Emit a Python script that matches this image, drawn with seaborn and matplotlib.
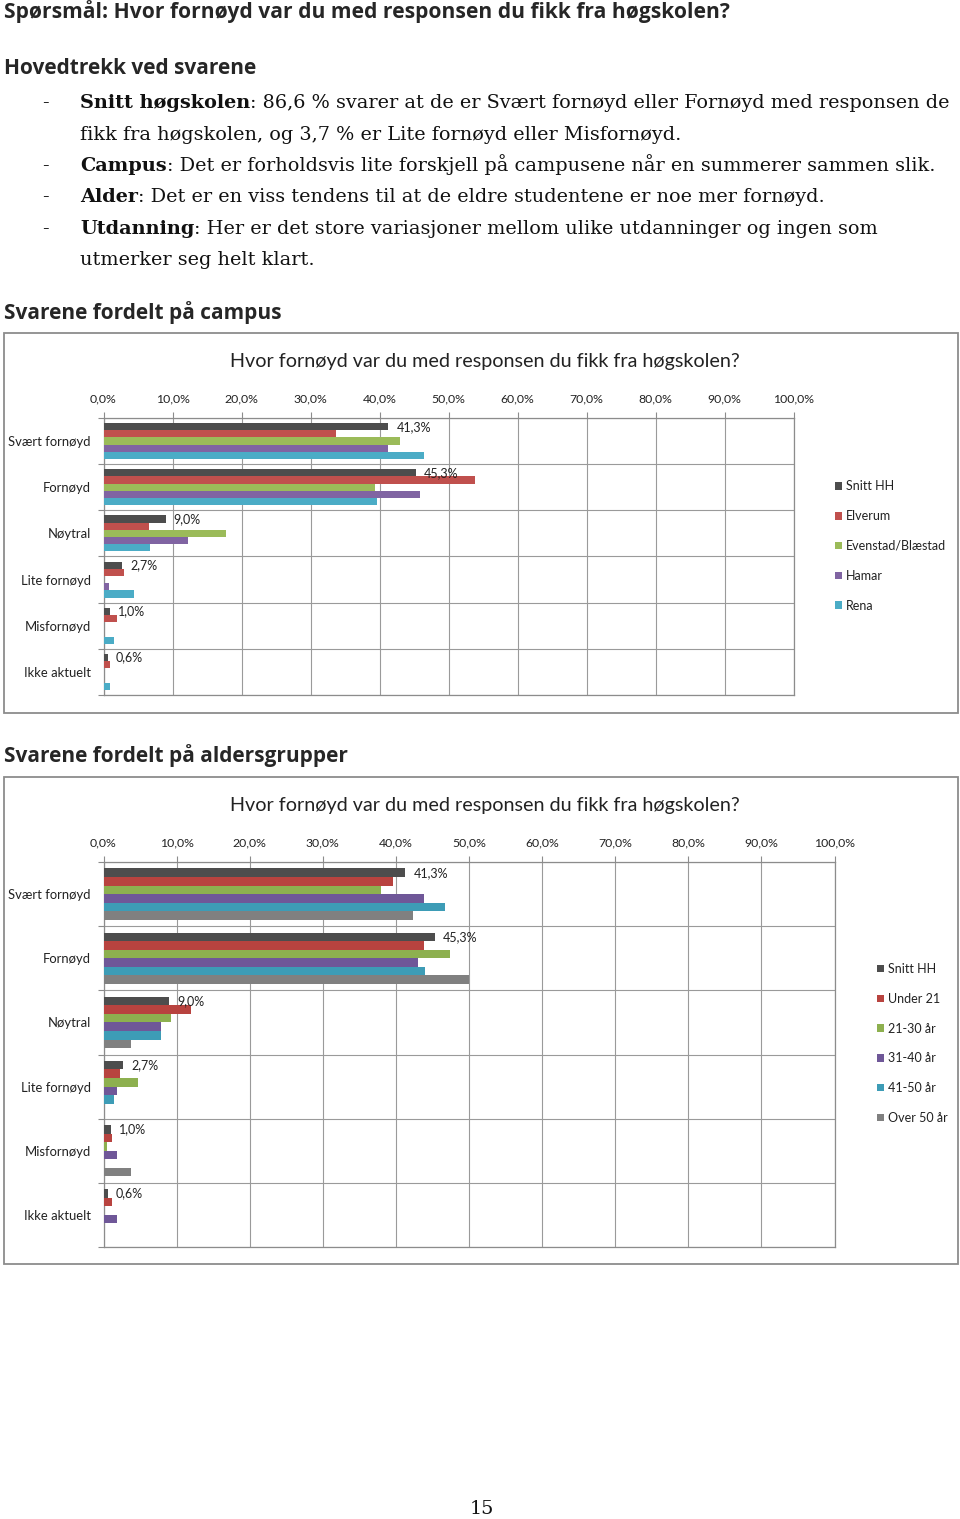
import numpy as np
import pandas as pd
import matplotlib
matplotlib.use("Agg")
import matplotlib.pyplot as plt
import seaborn as sns
from matplotlib.patches import Patch, Rectangle

# ---------------- data ----------------
categories = ["Svært fornøyd", "Fornøyd", "Nøytral", "Lite fornøyd", "Misfornøyd", "Ikke aktuelt"]
xticks = [0, 10, 20, 30, 40, 50, 60, 70, 80, 90, 100]

campus_series = ["Snitt HH", "Elverum", "Evenstad/Blæstad", "Hamar", "Rena"]
snitt_hh = [41.3, 45.3, 9.0, 2.7, 1.0, 0.6]
elverum = [33.7, 53.8, 6.6, 3.0, 1.9, 1.0]
evenstad = [43.0, 39.3, 17.8, 0.0, 0.0, 0.0]
hamar = [41.2, 45.8, 12.2, 0.8, 0.0, 0.0]
rena = [46.5, 39.7, 6.8, 4.4, 1.5, 1.0]

age_series = ["Snitt HH", "Under 21", "21-30 år", "31-40 år", "41-50 år", "Over 50 år"]
under_21 = [39.6, 43.9, 12.0, 2.3, 1.1, 1.1]
age_21_30 = [38.0, 47.4, 9.3, 4.7, 0.5, 0.0]
age_31_40 = [43.9, 43.0, 7.8, 1.8, 1.8, 1.8]
age_41_50 = [46.7, 44.0, 7.9, 1.4, 0.0, 0.0]
over_50 = [42.4, 50.0, 3.8, 0.0, 3.8, 0.0]

chart_title = "Hvor fornøyd var du med responsen du fikk fra høgskolen?"

campus_colors = ["#4d4d4d", "#c0504d", "#9bbb59", "#8064a2", "#4bacc6"]
age_colors = ["#4d4d4d", "#b8433f", "#8db04f", "#6f5798", "#3d9cb6", "#808080"]

# ---------------- figure ----------------
W, H = 960, 1519
sns.set_style("white")
plt.rcParams["font.family"] = ["Lato", "DejaVu Sans"]
fig = plt.figure(figsize=(W / 100, H / 100), dpi=100)
fig.patch.set_facecolor("white")
r = fig.canvas.get_renderer()

SANS = ["Lato", "DejaVu Sans"]
HEAD = ["Open Sans", "DejaVu Sans"]
SERIF = ["DejaVu Serif"]


def fx(px):
    return px / W


def fy(py):
    return 1 - py / H


def fit(t, width):
    bb = t.get_window_extent(r)
    t.set_fontsize(t.get_fontsize() * width / bb.width)
    return t


# headings
fit(fig.text(fx(4), fy(12), "Spørsmål: Hvor fornøyd var du med responsen du fikk fra høgskolen?",
             family=HEAD, fontweight="bold", fontsize=14, va="center", ha="left"), 726)
fit(fig.text(fx(4), fy(68), "Hovedtrekk ved svarene", family=HEAD, fontweight="bold",
             fontsize=14, va="center", ha="left"), 254)
fit(fig.text(fx(4), fy(313), "Svarene fordelt på campus", family=HEAD, fontweight="bold",
             fontsize=14, va="center", ha="left"), 280)
fit(fig.text(fx(4), fy(756), "Svarene fordelt på aldersgrupper", family=HEAD, fontweight="bold",
             fontsize=14, va="center", ha="left"), 346)

# body bullets
body_lines = [
    (108, True, [("Snitt høgskolen", True),
                 (": 86,6 % svarer at de er Svært fornøyd eller Fornøyd med responsen de", False)]),
    (140, False, [("fikk fra høgskolen, og 3,7 % er Lite fornøyd eller Misfornøyd.", False)]),
    (171, True, [("Campus", True),
                 (": Det er forholdsvis lite forskjell på campusene når en summerer sammen slik.", False)]),
    (202, True, [("Alder", True),
                 (": Det er en viss tendens til at de eldre studentene er noe mer fornøyd.", False)]),
    (234, True, [("Utdanning", True),
                 (": Her er det store variasjoner mellom ulike utdanninger og ingen som", False)]),
    (265, False, [("utmerker seg helt klart.", False)]),
]

# compute scale from first line
base = 12.0
tmp = []
x = 0
for s, b in body_lines[0][2]:
    t = fig.text(0, 0, s, family=SERIF, fontsize=base, fontweight="bold" if b else "normal")
    x += t.get_window_extent(r).width
    tmp.append(t)
for t in tmp:
    t.remove()
body_size = base * 866 / x

for ypx, bullet, parts in body_lines:
    if bullet:
        fig.text(fx(42), fy(ypx), "-", family=SERIF, fontsize=body_size, va="baseline", ha="left",
                 color="#111111")
    xpx = 80
    for s, b in parts:
        t = fig.text(fx(xpx), fy(ypx), s, family=SERIF, fontsize=body_size,
                     fontweight="bold" if b else "normal", va="baseline", ha="left", color="#111111")
        xpx += t.get_window_extent(r).width

fig.text(fx(482), fy(1509), "15", family=SERIF, fontsize=body_size, va="center", ha="center",
         color="#111111")


# ---------------- charts ----------------
def pct(v):
    return f"{v:.1f}%".replace(".", ",")


def chart(box, axbox, series_names, arrays, colors, width, legend_xy, title_y):
    # frame
    x0, y0, x1, y1 = box
    fig.patches.append(Rectangle((fx(x0), fy(y1)), fx(x1) - fx(x0), fy(y0) - fy(y1),
                                 transform=fig.transFigure, fill=False, edgecolor="#8c8c8c",
                                 linewidth=1.3, zorder=0))
    ax_l, ax_t, ax_r, ax_b = axbox
    ax = fig.add_axes([fx(ax_l), fy(ax_b), fx(ax_r) - fx(ax_l), fy(ax_t) - fy(ax_b)])
    rows = []
    for s, arr in zip(series_names, arrays):
        for c, v in zip(categories, arr):
            rows.append((c, s, v))
    df = pd.DataFrame(rows, columns=["kategori", "serie", "verdi"])
    sns.barplot(data=df, x="verdi", y="kategori", hue="serie", order=categories,
                hue_order=series_names, palette=dict(zip(series_names, colors)), orient="h",
                width=width, saturation=1, errorbar=None, legend=False, ax=ax, gap=0,
                linewidth=0, zorder=3)
    ax.set_xlim(0, 100)
    ax.set_ylim(len(categories) - 0.5, -0.5)
    ax.set_xlabel("")
    ax.set_ylabel("")
    ax.set_xticks(xticks)
    ax.set_xticklabels([pct(v) for v in xticks], fontsize=8.8, color="#222222")
    ax.xaxis.tick_top()
    ax.tick_params(axis="x", which="major", top=True, bottom=False, labeltop=True, labelbottom=False,
                   length=4, width=0.8, color="#8c8c8c", pad=6)
    ax.set_yticks(range(len(categories)))
    ax.set_yticklabels(categories, fontsize=9.4, color="#222222")
    ax.set_yticks(np.arange(-0.5, len(categories), 1), minor=True)
    ax.tick_params(axis="y", which="major", length=0, pad=9)
    ax.tick_params(axis="y", which="minor", left=True, length=4, width=0.8, color="#8c8c8c")
    ax.grid(False)
    ax.grid(True, axis="x", which="major", color="#9a9a9a", linewidth=0.8, zorder=0)
    ax.grid(True, axis="y", which="minor", color="#9a9a9a", linewidth=0.8, zorder=0)
    ax.set_axisbelow(True)
    for sp in ax.spines.values():
        sp.set_visible(True)
        sp.set_color("#8c8c8c")
        sp.set_linewidth(0.9)
    # data labels on average bars
    for patch in ax.containers[0]:
        v = patch.get_width()
        yc = patch.get_y() + patch.get_height() / 2
        ax.annotate(pct(v), (v, yc), xytext=(8, 0), textcoords="offset pixels", va="center",
                    ha="left", fontsize=9.0, color="#222222", zorder=5)
    # title
    fit(fig.text(fx((x0 + x1) / 2 + 4), fy(title_y), chart_title, family=SANS, fontsize=13,
                 ha="center", va="center", color="#222222"), 508)
    # legend
    handles = [Patch(facecolor=c, edgecolor="none") for c in colors]
    lx, ly = legend_xy
    fig.legend(handles, series_names, loc="center left", bbox_to_anchor=(fx(lx), fy(ly)),
               frameon=False, fontsize=9.0, handlelength=0.55, handleheight=0.55,
               handletextpad=0.35, labelspacing=1.42, borderpad=0, borderaxespad=0,
               labelcolor="#222222")
    return ax


chart((4, 333, 958, 713), (103.5, 418, 793.5, 695),
      campus_series, [snitt_hh, elverum, evenstad, hamar, rena], campus_colors, 0.78,
      (835, 546), 361)
chart((4, 777, 958, 1264), (103.5, 862, 834.5, 1247),
      age_series, [snitt_hh, under_21, age_21_30, age_31_40, age_41_50, over_50], age_colors, 0.80,
      (877, 1043.5), 806)

fig.savefig("out.png", dpi=100, facecolor="white")
